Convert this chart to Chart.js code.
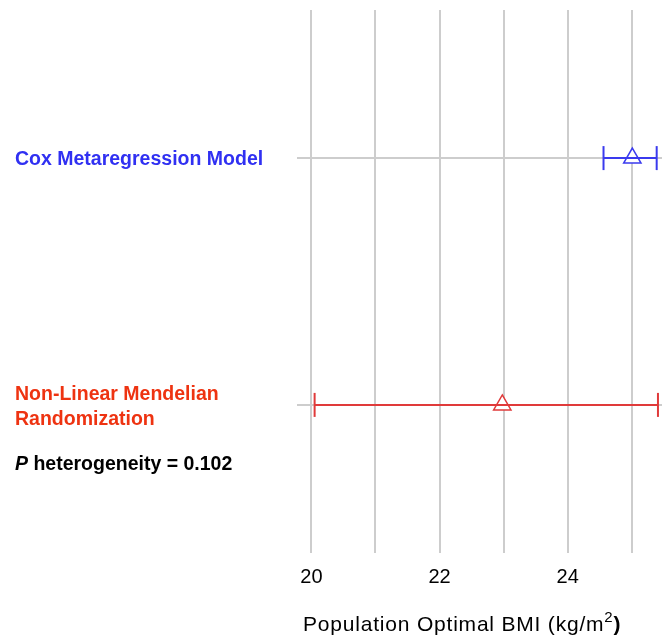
<!DOCTYPE html>
<html lang="en">
<head>
<meta charset="UTF-8" />
<title>Population Optimal BMI</title>
<style>
  body { margin: 0; background: #fff; }
  #wrap { width: 662px; height: 641px; }
</style>
<script src="https://cdn.jsdelivr.net/npm/chart.js"></script>
</head>
<body>
<div id="wrap"><canvas id="chart" width="662" height="641"></canvas></div>
<script>
  // data
  const models = [["Cox Metaregression Model"], ["Non-Linear Mendelian", "Randomization"]];
  const estimates = [25.01, 22.98];
  const lowerCI = [24.56, 20.05];
  const upperCI = [25.39, 25.41];
  const xTicks = [20, 21, 22, 23, 24, 25];
  const xLabels = ["20", "", "22", "", "24", ""];
  const heterogeneityP = "0.102";

  const textColors = ["#3030f2", "#ee3311"];
  const markColors = ["#3a3aee", "#e03a3a"];
  const FONT = "'Liberation Sans', Arial, sans-serif";
  Chart.defaults.font.family = FONT;

  const datasets = [];
  models.forEach((m, i) => {
    // confidence interval with end caps
    datasets.push({
      data: [{ x: lowerCI[i], y: i }, { x: upperCI[i], y: i }],
      showLine: true,
      borderColor: markColors[i],
      borderWidth: 2,
      pointStyle: "line",
      rotation: 90,
      pointRadius: 12,
      pointBorderWidth: 2,
      pointBorderColor: markColors[i],
    });
    // point estimate
    datasets.push({
      data: [{ x: estimates[i], y: i }],
      pointStyle: "triangle",
      pointRadius: 10,
      pointBackgroundColor: "#fff",
      pointBorderColor: markColors[i],
      pointBorderWidth: 1.5,
    });
  });

  // no auto padding from tick labels, chart area is set by layout padding
  const noPad = (s) => {
    s.paddingLeft = 0; s.paddingRight = 0;
    s.paddingTop = 0; s.paddingBottom = 0;
  };

  const extraText = {
    id: "extraText",
    afterDraw(chart) {
      const ctx = chart.ctx;
      ctx.save();
      ctx.fillStyle = "#000";
      ctx.textBaseline = "middle";
      ctx.textAlign = "left";
      // heterogeneity note
      ctx.font = "italic bold 19.5px " + FONT;
      ctx.fillText("P", 15, 465);
      let w = ctx.measureText("P").width;
      ctx.font = "bold 19.5px " + FONT;
      ctx.fillText(" heterogeneity = " + heterogeneityP, 15 + w, 465);

      // axis title with superscript
      ctx.letterSpacing = "0.8px";
      let x = 303;
      const y = 625;
      ctx.font = "21px " + FONT;
      const t = "Population Optimal BMI (kg/m";
      ctx.fillText(t, x, y);
      x += ctx.measureText(t).width;
      ctx.font = "15px " + FONT;
      ctx.fillText("2", x, y - 7);
      x += ctx.measureText("2").width;
      ctx.font = "bold 21px " + FONT;
      ctx.fillText(")", x, y);
      ctx.restore();
    },
  };

  new Chart(document.getElementById("chart"), {
    type: "scatter",
    data: { datasets: datasets },
    options: {
      responsive: false,
      animation: false,
      layout: { autoPadding: false, padding: { top: 10, left: 15, right: 0, bottom: 0 } },
      plugins: {
        legend: { display: false },
        tooltip: { enabled: false },
      },
      scales: {
        x: {
          type: "linear",
          min: 19.775,
          max: 25.473,
          afterBuildTicks: (s) => { s.ticks = xTicks.map((v) => ({ value: v })); },
          afterFit: (s) => { s.height = 88; noPad(s); },
          border: { display: false },
          grid: { color: "#cdcdcd", lineWidth: 2, drawTicks: false },
          ticks: {
            autoSkip: false,
            maxRotation: 0,
            padding: 12,
            color: "#000",
            font: { size: 20 },
            callback: (v) => xLabels[xTicks.indexOf(v)],
          },
        },
        y: {
          type: "linear",
          min: -0.6,
          max: 1.6,
          reverse: true,
          afterBuildTicks: (s) => { s.ticks = models.map((m, i) => ({ value: i })); },
          afterFit: (s) => { s.width = 282; noPad(s); },
          border: { display: false },
          grid: { color: "#cdcdcd", lineWidth: 2, drawTicks: false },
          ticks: {
            autoSkip: false,
            crossAlign: "far",
            labelOffset: 2,
            color: (c) => textColors[c.index],
            font: { size: 19.5, weight: "bold", lineHeight: 1.3 },
            callback: (v, i) => models[i],
          },
        },
      },
    },
    plugins: [extraText],
  });
</script>
</body>
</html>
